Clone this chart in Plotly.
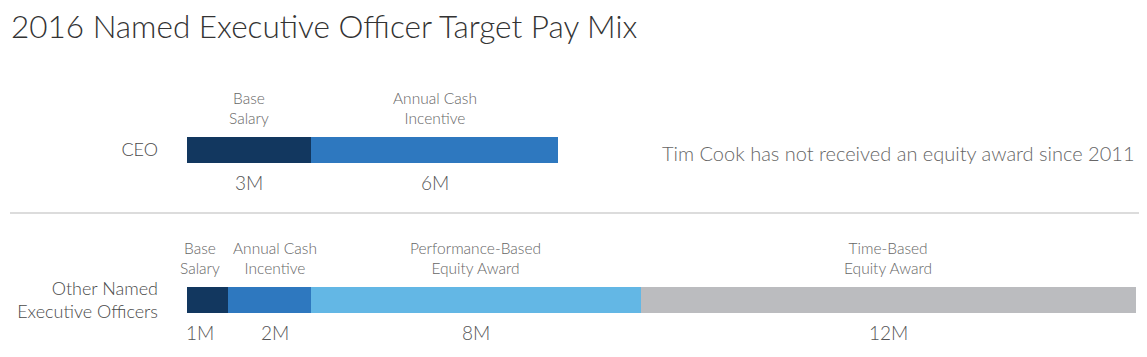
import plotly.graph_objects as go

# ---- data ----
rows = ["CEO", "Other Named<br>Executive Officers"]
components = ["Base<br>Salary", "Annual Cash<br>Incentive",
              "Performance-Based<br>Equity Award", "Time-Based<br>Equity Award"]
ceo_values = [3, 6, 0, 0]          # $M
neo_values = [1, 2, 8, 12]         # $M
colors = ["#12375f", "#2e78bf", "#63b7e5", "#bbbcbf"]
label_shift = [[0, 0, 0, 0], [-8, 5, 0, 0]]  # small horizontal nudges to avoid overlap
note = "Tim Cook has not received an equity award since 2011"
title = "2016 Named Executive Officer Target Pay Mix"

# page body has an 8px margin; lay out in page pixels, then offset
OFF = 8
PW, PH = 1147, 357
W, H = PW - OFF, PH - OFF
FONT = "Lato"
row_pos = [0, 1]
series = [ceo_values, neo_values]


def px_x(p):
    return (p - OFF) / W


def px_y(p):
    return 1 - (p - OFF) / H


fig = go.Figure()
for i, comp in enumerate(components):
    xs = [s[i] if s[i] else None for s in series]
    fig.add_trace(go.Bar(
        x=xs, y=row_pos, orientation="h", name=comp.replace("<br>", " "),
        marker=dict(color=colors[i], line=dict(width=0)),
        width=26 / 150, hoverinfo="x+name", showlegend=False,
    ))

annotations = []
for r, vals in enumerate(series):
    start = 0
    for i, v in enumerate(vals):
        if not v:
            continue
        mid = start + v / 2
        annotations.append(dict(
            x=mid, y=row_pos[r], xref="x", yref="y", text=components[i],
            showarrow=False, yanchor="bottom", yshift=21, xshift=label_shift[r][i],
            font=dict(family=FONT, size=15.5, color="#666666", weight=300),
        ))
        annotations.append(dict(
            x=mid, y=row_pos[r], xref="x", yref="y", text=f"{v}M",
            showarrow=False, yanchor="middle", yshift=-32, xshift=label_shift[r][i],
            font=dict(family=FONT, size=19, color="#555555", weight=300),
        ))
        start += v

annotations.append(dict(
    x=px_x(1137), y=row_pos[0], xref="paper", yref="y", text=note,
    showarrow=False, xanchor="right", yanchor="middle", yshift=-3,
    font=dict(family=FONT, size=20, color="#666666", weight=300),
))
annotations.append(dict(
    x=px_x(9), y=px_y(26), xref="paper", yref="paper", text=title,
    showarrow=False, xanchor="left", yanchor="middle",
    font=dict(family=FONT, size=31.5, color="#333333", weight=300),
))

total = sum(neo_values)
# y axis: row 0 centred at page y=150, row 1 at page y=300
y0, dy = 150 - OFF, 150
fig.update_layout(
    width=W, height=H, margin=dict(l=0, r=0, t=0, b=0, pad=0),
    paper_bgcolor="white", plot_bgcolor="white",
    barmode="stack", bargap=0,
    annotations=annotations,
    shapes=[dict(type="line", xref="paper", yref="paper",
                 x0=px_x(10), x1=1, y0=px_y(213), y1=px_y(213),
                 line=dict(color="#dcdcdc", width=2))],
    xaxis=dict(range=[0, total], domain=[px_x(187), px_x(1136)], visible=False, fixedrange=True),
    yaxis=dict(range=[(H - y0) / dy, -y0 / dy], tickvals=row_pos, ticktext=rows,
               showgrid=False, zeroline=False, showline=False, ticks="",
               ticklabelstandoff=28, fixedrange=True,
               tickfont=dict(family=FONT, size=18, color="#4a4a4a", weight=300)),
    font=dict(family=FONT),
)

fig.write_html("out.html")
